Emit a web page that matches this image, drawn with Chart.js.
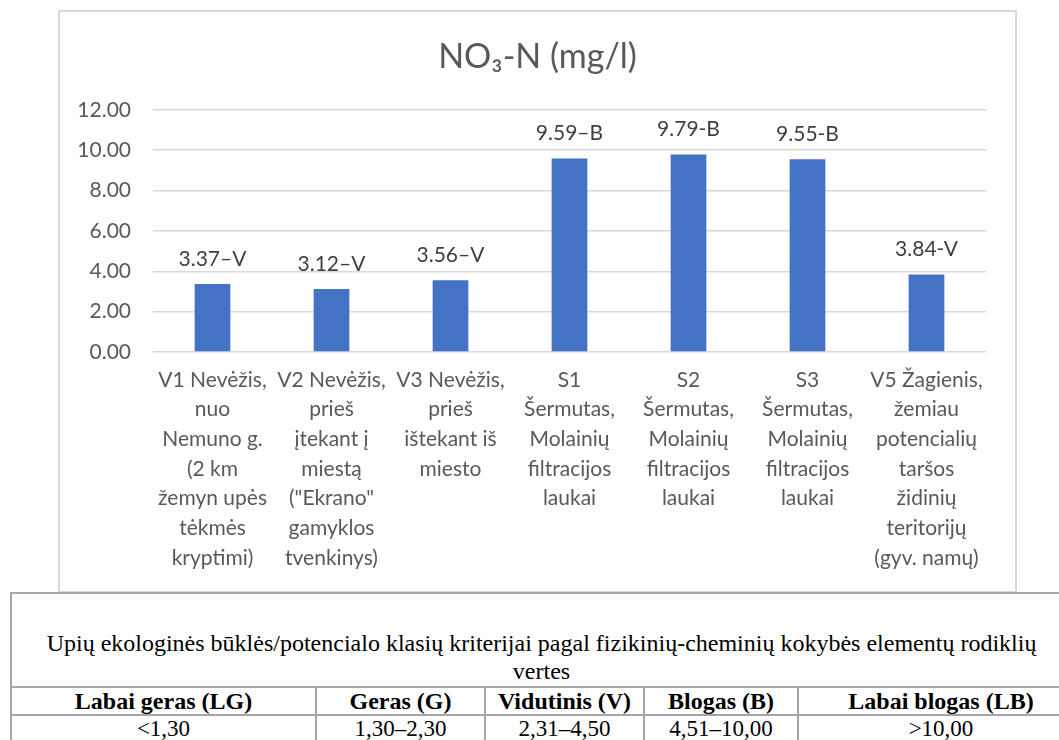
<!DOCTYPE html>
<html>
<head>
<meta charset="utf-8">
<script src="https://cdn.jsdelivr.net/npm/chart.js@4.4.1/dist/chart.umd.min.js"></script>
<style>
  html, body { margin: 0; padding: 0; background: #ffffff; width: 1059px; height: 740px; overflow: hidden; position: relative; }
  #box { position: absolute; left: 58px; top: 10px; width: 955px; height: 579px; border: 2px solid #d9d9d9; background: #fff; }
  #box canvas { display: block; }
  #crit { position: absolute; left: 10px; top: 592px; width: 1073px; border-collapse: collapse; table-layout: fixed;
          font-family: "Liberation Serif", "Times New Roman", serif; color: #000; }
  #crit td { border: 2px solid #a6a6a6; padding: 0; text-align: center; font-size: 23px; line-height: 26px; white-space: nowrap; }
  #crit td.cap { height: 91px; vertical-align: bottom; font-size: 24px; line-height: 28px; padding-bottom: 1px; padding-right: 12px; }
  #crit tr.hdr td { font-weight: bold; font-size: 24px; height: 26px; }
  #crit tr.val td { height: 26px; }
</style>
</head>
<body>
<div id="box"><canvas id="c" width="955" height="579"></canvas></div>
<table id="crit">
  <colgroup><col style="width:305px"><col style="width:169px"><col style="width:159px"><col style="width:154px"><col style="width:286px"></colgroup>
  <tbody id="critBody"></tbody>
</table>
<script>
// ---- data ----
const chartTitle = 'NO\u2083-N (mg/l)';
const categories = [
  ['V1 Nevėžis,', 'nuo', 'Nemuno g.', '(2 km', 'žemyn upės', 'tėkmės', 'kryptimi)'],
  ['V2 Nevėžis,', 'prieš', 'įtekant į', 'miestą', '("Ekrano"', 'gamyklos', 'tvenkinys)'],
  ['V3 Nevėžis,', 'prieš', 'ištekant iš', 'miesto'],
  ['S1', 'Šermutas,', 'Molainių', 'filtracijos', 'laukai'],
  ['S2', 'Šermutas,', 'Molainių', 'filtracijos', 'laukai'],
  ['S3', 'Šermutas,', 'Molainių', 'filtracijos', 'laukai'],
  ['V5 Žagienis,', 'žemiau', 'potencialių', 'taršos', 'židinių', 'teritorijų', '(gyv. namų)']
];
const values = [3.37, 3.12, 3.56, 9.59, 9.79, 9.55, 3.84];
const valueLabels = ['3.37–V', '3.12–V', '3.56–V', '9.59–B', '9.79-B', '9.55-B', '3.84-V'];
const yMin = 0, yMax = 12, yStep = 2;

const tableCaption = ['Upių ekologinės būklės/potencialo klasių kriterijai pagal fizikinių-cheminių kokybės elementų rodiklių', 'vertes'];
const classNames = ['Labai geras (LG)', 'Geras (G)', 'Vidutinis (V)', 'Blogas (B)', 'Labai blogas (LB)'];
const classRanges = ['<1,30', '1,30–2,30', '2,31–4,50', '4,51–10,00', '>10,00'];

// ---- table ----
(function buildTable() {
  const tb = document.getElementById('critBody');
  const r0 = document.createElement('tr');
  const cap = document.createElement('td');
  cap.className = 'cap'; cap.colSpan = classNames.length;
  tableCaption.forEach((t, i) => { if (i) cap.appendChild(document.createElement('br')); cap.appendChild(document.createTextNode(t)); });
  r0.appendChild(cap); tb.appendChild(r0);
  const r1 = document.createElement('tr'); r1.className = 'hdr';
  classNames.forEach(t => { const td = document.createElement('td'); td.textContent = t; r1.appendChild(td); });
  tb.appendChild(r1);
  const r2 = document.createElement('tr'); r2.className = 'val';
  classRanges.forEach(t => { const td = document.createElement('td'); td.textContent = t; r2.appendChild(td); });
  tb.appendChild(r2);
})();

// ---- chart ----
const FONT = 'Lato, "Open Sans", sans-serif';
const barLabels = {
  id: 'barLabels',
  afterDatasetsDraw(chart) {
    const ctx = chart.ctx;
    const meta = chart.getDatasetMeta(0);
    ctx.save();
    ctx.font = '21px ' + FONT;
    ctx.fillStyle = '#404040';
    ctx.textAlign = 'center';
    ctx.textBaseline = 'middle';
    meta.data.forEach((bar, i) => {
      ctx.fillText(valueLabels[i], bar.x, bar.y - 25);
    });
    ctx.restore();
  }
};

new Chart(document.getElementById('c'), {
  type: 'bar',
  data: {
    labels: categories,
    datasets: [{
      data: values,
      backgroundColor: '#4472C4',
      borderWidth: 0,
      categoryPercentage: 1,
      barPercentage: 0.30
    }]
  },
  options: {
    responsive: false,
    animation: false,
    layout: { padding: { left: 0, right: 0, top: 0, bottom: 0 } },
    plugins: {
      legend: { display: false },
      tooltip: { enabled: false },
      title: {
        display: true,
        text: chartTitle,
        color: '#595959',
        font: { family: FONT, size: 34, weight: 'normal', lineHeight: 1.2 },
        padding: { top: 25, bottom: 32 }
      }
    },
    scales: {
      x: {
        grid: { display: false, drawTicks: false },
        border: { display: false },
        ticks: {
          color: '#595959',
          font: { family: FONT, size: 21, lineHeight: 1.414 },
          padding: 13,
          autoSkip: false,
          maxRotation: 0,
          minRotation: 0
        },
        afterFit(scale) { scale.height = 239; }
      },
      y: {
        min: yMin, max: yMax,
        grid: { color: '#d9d9d9', lineWidth: 1.5, drawTicks: false },
        border: { display: false },
        ticks: {
          stepSize: yStep,
          color: '#595959',
          font: { family: FONT, size: 21 },
          padding: 22,
          callback: v => Number(v).toFixed(2)
        },
        afterFit(scale) { scale.width = 93; }
      },
      spacer: {
        type: 'linear',
        position: 'right',
        min: 0, max: 1,
        grid: { display: false, drawTicks: false },
        border: { display: false },
        ticks: { display: false },
        afterFit(scale) { scale.width = 29; }
      }
    }
  },
  plugins: [barLabels]
});
</script>
</body>
</html>
